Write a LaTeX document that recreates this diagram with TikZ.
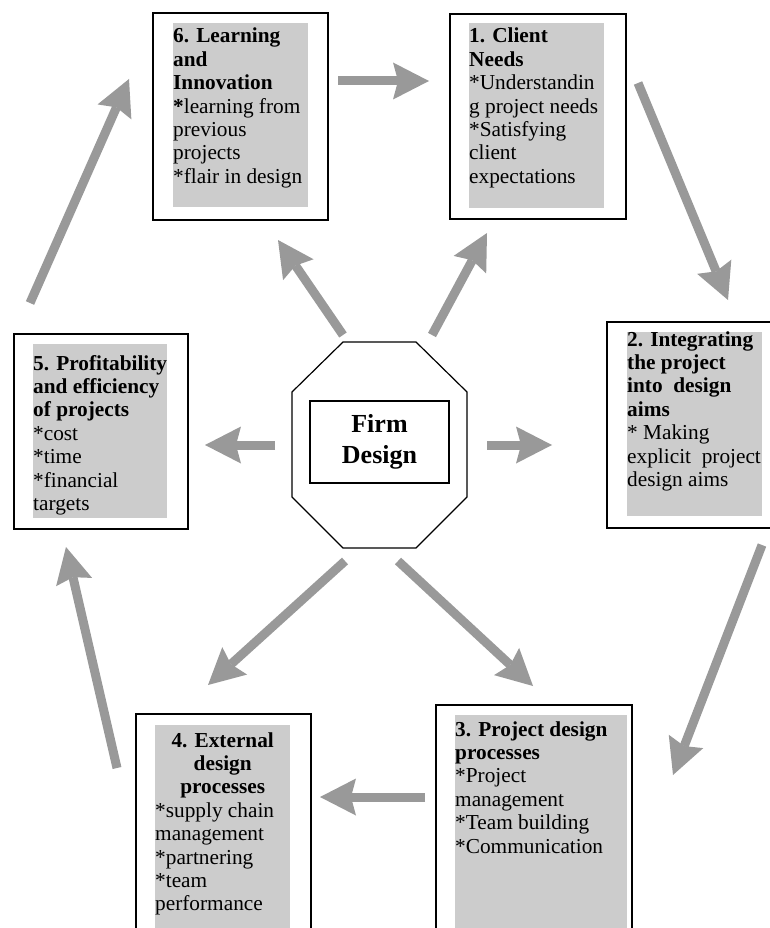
\documentclass[tikz,border=0pt]{standalone}
\usepackage{fontspec}
\setmainfont{Liberation Serif}
\usetikzlibrary{arrows.meta}
\definecolor{arrowgray}{HTML}{999999}
\definecolor{boxgray}{HTML}{CCCCCC}
\begin{document}
\begin{tikzpicture}[x=1pt,y=-1pt,
  frame/.style={draw=black, line width=1.8pt, anchor=north west, inner sep=0pt},
  shade/.style={fill=boxgray, anchor=north west, inner sep=0pt},
  txt/.style={anchor=base west, inner sep=0pt, font=\fontsize{21.3}{23.4}\selectfont},
  octo/.style={draw=black, line width=1.2pt},
  core/.style={draw=black, line width=1.5pt, minimum width=139pt, minimum height=82pt, align=center, inner sep=0pt, font=\fontsize{26}{31}\selectfont\bfseries},
  bigarrow/.style={draw=arrowgray, line width=9pt, -{Stealth[width=37pt,length=36pt,inset=5pt,line width=0pt 0]}}
]
\useasboundingbox (0,0) rectangle (770,928);

% frames and shaded areas
\node[frame, minimum width=175pt, minimum height=207pt] (f6) at (152,12) {};
\node[shade, minimum width=135pt, minimum height=184pt] (g6) at (173,23) {};
\node[frame, minimum width=176pt, minimum height=205pt] (f1) at (449,13) {};
\node[shade, minimum width=135pt, minimum height=185pt] (g1) at (469,23) {};
\node[frame, minimum width=166pt, minimum height=206pt] (f2) at (606,321) {};
\node[shade, minimum width=135pt, minimum height=184pt] (g2) at (627,332) {};
\node[frame, minimum width=174pt, minimum height=195pt] (f5) at (13,333) {};
\node[shade, minimum width=134pt, minimum height=174pt] (g5) at (33,344) {};
\node[frame, minimum width=175pt, minimum height=230pt] (f4) at (135,713) {};
\node[shade, minimum width=135pt, minimum height=220pt] (g4) at (155,725) {};
\node[frame, minimum width=196pt, minimum height=240pt] (f3) at (435,704) {};
\node[shade, minimum width=172pt, minimum height=230pt] (g3) at (455,715) {};

% texts
\node[txt] (t6) at (173,43) {\parbox[t]{135pt}{\raggedright{\bfseries 6. Learning\\and\\Innovation\\{}*}learning from\\previous\\projects\\{}*flair in design}};
\node[txt] (t1) at (469,43) {\parbox[t]{135pt}{\raggedright{\bfseries 1. Client\\Needs}\\{}*Understandin\\g project needs\\{}*Satisfying\\client\\expectations}};
\node[txt] (t2) at (627,346) {\parbox[t]{135pt}{\raggedright{\bfseries 2. Integrating\\the project\\into~~design\\aims}\\{}* Making\\explicit~~project\\design aims}};
\node[txt] (t5) at (33,370) {\parbox[t]{134pt}{\raggedright{\bfseries 5. Profitability\\and efficiency\\of projects}\\{}*cost\\{}*time\\{}*financial\\targets}};
\node[txt] (t4) at (155,747) {\parbox[t]{135pt}{\raggedright{\centering\bfseries 4. External\\design\\processes\par}*supply chain\\management\\{}*partnering\\{}*team\\performance}};
\node[txt] (t3) at (455,736) {\parbox[t]{172pt}{\raggedright{\bfseries 3. Project design\\processes}\\{}*Project\\management\\{}*Team building\\{}*Communication}};

% centre
\draw[octo] (343,342) -- (416,342) -- (467,392) -- (467,497) -- (416,548) -- (343,548) -- (292,497) -- (292,392) -- cycle;
\node[core] (core) at (379.5,442) {Firm\\Design};

% arrow end points
\coordinate (a1s) at (338,81);  \coordinate (a1e) at (429,81);
\coordinate (a2s) at (638,83);  \coordinate (a2e) at (728,300);
\coordinate (a3s) at (762,545); \coordinate (a3e) at (673,775);
\coordinate (a4s) at (425,797); \coordinate (a4e) at (320,797);
\coordinate (a5s) at (117,768); \coordinate (a5e) at (66,547);
\coordinate (a6s) at (30,303);  \coordinate (a6e) at (129,79);
\coordinate (c6s) at (343,335); \coordinate (c6e) at (278,240);
\coordinate (c1s) at (432,335); \coordinate (c1e) at (487,233);
\coordinate (c5s) at (275,445); \coordinate (c5e) at (205,445);
\coordinate (c2s) at (487,445); \coordinate (c2e) at (552,445);
\coordinate (c4s) at (345,561); \coordinate (c4e) at (208,685);
\coordinate (c3s) at (398,561); \coordinate (c3e) at (533,686);

\draw[bigarrow] (a1s) -- (a1e);
\draw[bigarrow] (a2s) -- (a2e);
\draw[bigarrow] (a3s) -- (a3e);
\draw[bigarrow] (a4s) -- (a4e);
\draw[bigarrow] (a5s) -- (a5e);
\draw[bigarrow] (a6s) -- (a6e);
\draw[bigarrow] (c6s) -- (c6e);
\draw[bigarrow] (c1s) -- (c1e);
\draw[bigarrow] (c5s) -- (c5e);
\draw[bigarrow] (c2s) -- (c2e);
\draw[bigarrow] (c4s) -- (c4e);
\draw[bigarrow] (c3s) -- (c3e);
\end{tikzpicture}
\end{document}
